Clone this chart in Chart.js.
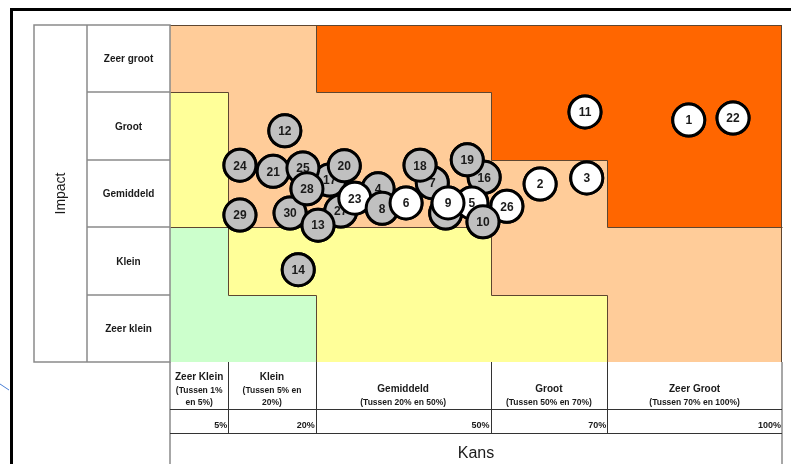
<!DOCTYPE html>
<html>
<head>
<meta charset="utf-8">
<title>Risicomatrix</title>
<script src="https://cdn.jsdelivr.net/npm/chart.js@4"></script>
<style>
    html, body { margin: 0; padding: 0; background: #fff; }
    canvas { display: block; }
</style>
</head>
<body>
<canvas id="risk-chart" width="791" height="464"></canvas>
<script>
// Impact rows, bottom to top
const impactLabels = ['Zeer klein', 'Klein', 'Gemiddeld', 'Groot', 'Zeer groot'];

// Kans columns
const kansLabels = ['Zeer Klein', 'Klein', 'Gemiddeld', 'Groot', 'Zeer Groot'];
const kansRanges = [
    ['(Tussen 1%', 'en 5%)'],
    ['(Tussen 5% en', '20%)'],
    ['(Tussen 20% en 50%)'],
    ['(Tussen 50% en 70%)'],
    ['(Tussen 70% en 100%)']
];
const kansBounds = [-5, 5, 20, 50, 70, 100];
const kansTicks = ['5%', '20%', '50%', '70%', '100%'];

// Zone per cell (rows bottom to top): G = laag, Y = matig, P = hoog, O = zeer hoog
const zoneMatrix = [
    ['G', 'G', 'Y', 'Y', 'P'],
    ['G', 'Y', 'Y', 'P', 'P'],
    ['Y', 'P', 'P', 'P', 'O'],
    ['Y', 'P', 'P', 'O', 'O'],
    ['P', 'P', 'O', 'O', 'O']
];

// Risks, in drawing order (later ones on top)
const riskIds    = [17, 15, 12, 24, 21, 25, 30, 28, 20, 29, 27, 13, 4, 23, 8, 6, 7, 18, 16, 19, 5, 9, 26, 10, 2, 3, 11, 1, 22, 14];
const riskKans   = [22.4, 42.3, 14.7, 7.0, 12.7, 17.8, 15.6, 18.5, 24.9, 7.0, 24.3, 20.4, 30.7, 26.7, 31.4, 35.5, 40.0, 37.9, 48.9, 46.0, 46.8, 42.7, 52.8, 48.7, 58.5, 66.5, 66.2, 84.0, 91.6, 17.0];
const riskImpact = [2.70, 2.21, 3.43, 2.92, 2.83, 2.88, 2.21, 2.57, 2.91, 2.18, 2.24, 2.03, 2.57, 2.43, 2.28, 2.36, 2.66, 2.92, 2.74, 3.00, 2.36, 2.36, 2.31, 2.08, 2.64, 2.73, 3.71, 3.59, 3.62, 1.37];
const riskGrey   = [true, true, true, true, true, true, true, true, true, true, true, true, true, false, true, false, true, true, true, true, false, false, false, true, false, false, false, false, false, true];

const zoneColors = { G: '#CCFFCC', Y: '#FFFF99', P: '#FFCC99', O: '#FF6600' };
const gridGrey = '#8a8a8a';
const zoneLine = '#5e4630';

function multiLine(ctx, lines, x, y, lh) {
    lines.forEach((t, i) => ctx.fillText(t, x, y + i * lh));
}

// Draws frame, tables and coloured zones behind the bubbles
const matrixPlugin = {
    id: 'matrix',
    beforeDatasetsDraw(chart) {
        const ctx = chart.ctx;
        const xs = chart.scales.x;
        const ys = chart.scales.y;
        const area = chart.chartArea;
        const left = 34, mid = 87;
        const hdrBottom = 409, pctBottom = 433, bottom = chart.height;
        const px = v => Math.round(xs.getPixelForValue(v));
        const py = v => Math.round(ys.getPixelForValue(v));

        ctx.save();

        // outer frame
        ctx.fillStyle = '#000';
        ctx.fillRect(10, 8, chart.width - 10, 3);
        ctx.fillRect(10, 8, 3, chart.height - 8);
        ctx.strokeStyle = '#4a7fd6';
        ctx.lineWidth = 1;
        ctx.beginPath();
        ctx.moveTo(0, 384);
        ctx.lineTo(9, 390);
        ctx.stroke();

        // zones
        for (let r = 0; r < 5; r++) {
            for (let c = 0; c < 5; c++) {
                const x0 = px(kansBounds[c]);
                const x1 = px(kansBounds[c + 1]);
                const y0 = py(r + 1);
                const y1 = py(r);
                ctx.fillStyle = zoneColors[zoneMatrix[r][c]];
                ctx.fillRect(x0, y0, x1 - x0, y1 - y0);
            }
        }

        // zone borders
        ctx.strokeStyle = zoneLine;
        ctx.lineWidth = 1;
        ctx.beginPath();
        for (let r = 0; r < 5; r++) {
            for (let c = 0; c < 5; c++) {
                const x0 = px(kansBounds[c]) + 0.5;
                const x1 = px(kansBounds[c + 1]) + 0.5;
                const y0 = py(r + 1) + 0.5;
                const y1 = py(r) + 0.5;
                if (c < 4 && zoneMatrix[r][c] !== zoneMatrix[r][c + 1]) {
                    ctx.moveTo(x1, y0);
                    ctx.lineTo(x1, y1);
                }
                if (r < 4 && zoneMatrix[r][c] !== zoneMatrix[r + 1][c]) {
                    ctx.moveTo(x0, y0);
                    ctx.lineTo(x1, y0);
                }
            }
        }
        ctx.moveTo(area.left, area.top + 0.5);
        ctx.lineTo(area.right, area.top + 0.5);
        ctx.moveTo(area.right - 0.5, area.top);
        ctx.lineTo(area.right - 0.5, area.bottom);
        ctx.stroke();

        // left table (Impact)
        ctx.strokeStyle = gridGrey;
        ctx.lineWidth = 1.5;
        ctx.beginPath();
        ctx.rect(left, area.top, area.left - left, area.bottom - area.top);
        ctx.moveTo(mid, area.top);
        ctx.lineTo(mid, area.bottom);
        for (let r = 1; r < 5; r++) {
            const y = py(r);
            ctx.moveTo(mid, y);
            ctx.lineTo(area.left, y);
        }
        ctx.stroke();

        ctx.fillStyle = '#1a1a1a';
        ctx.textAlign = 'center';
        ctx.textBaseline = 'middle';
        ctx.font = 'bold 10px Arial';
        impactLabels.forEach((lab, r) => {
            ctx.fillText(lab, (mid + area.left) / 2, ys.getPixelForValue(r + 0.5) + 1);
        });
        ctx.save();
        ctx.translate((left + mid) / 2 + 1, (area.top + area.bottom) / 2);
        ctx.rotate(-Math.PI / 2);
        ctx.font = '14px Arial';
        ctx.fillText('Impact', 0, 0);
        ctx.restore();

        // bottom table (Kans)
        ctx.strokeStyle = gridGrey;
        ctx.lineWidth = 1.5;
        ctx.beginPath();
        ctx.moveTo(area.left, area.bottom);
        ctx.lineTo(area.left, bottom);
        ctx.moveTo(area.right, area.bottom);
        ctx.lineTo(area.right, bottom);
        ctx.stroke();
        ctx.strokeStyle = '#333';
        ctx.lineWidth = 1;
        ctx.beginPath();
        [hdrBottom, pctBottom].forEach(y => {
            ctx.moveTo(area.left, y + 0.5);
            ctx.lineTo(area.right, y + 0.5);
        });
        for (let c = 1; c < 5; c++) {
            const x = px(kansBounds[c]) + 0.5;
            ctx.moveTo(x, area.bottom);
            ctx.lineTo(x, pctBottom);
        }
        ctx.stroke();

        ctx.fillStyle = '#1a1a1a';
        for (let c = 0; c < 5; c++) {
            const x0 = xs.getPixelForValue(kansBounds[c]);
            const x1 = xs.getPixelForValue(kansBounds[c + 1]);
            const cx = (x0 + x1) / 2;
            const wrapped = kansRanges[c].length > 1;
            ctx.textAlign = 'center';
            ctx.font = 'bold 10px Arial';
            ctx.fillText(kansLabels[c], cx, wrapped ? 377 : 389);
            ctx.font = 'bold 8.5px Arial';
            multiLine(ctx, kansRanges[c], cx, wrapped ? 391 : 403, 12);
            ctx.textAlign = 'right';
            ctx.font = 'bold 9px Arial';
            ctx.fillText(kansTicks[c], x1 - 1, 426);
        }
        ctx.textAlign = 'center';
        ctx.font = '16px Arial';
        ctx.fillText('Kans', (area.left + area.right) / 2, 454);

        ctx.restore();
    }
};

// Redraws each bubble with its number, in order, so later bubbles cover earlier numbers
const numberPlugin = {
    id: 'riskNumbers',
    afterDatasetsDraw(chart) {
        const ctx = chart.ctx;
        const meta = chart.getDatasetMeta(0);
        ctx.save();
        meta.data.forEach((pt, i) => {
            pt.draw(ctx);
            ctx.fillStyle = '#1a1a1a';
            ctx.font = 'bold 12px Arial';
            ctx.textAlign = 'center';
            ctx.textBaseline = 'middle';
            ctx.fillText(String(riskIds[i]), pt.x, pt.y + 1);
        });
        ctx.restore();
    }
};

const ctx = document.getElementById('risk-chart');
new Chart(ctx, {
    type: 'scatter',
    data: {
        datasets: [{
            label: 'Risico',
            data: riskIds.map((id, i) => ({ x: riskKans[i], y: riskImpact[i] })),
            backgroundColor: riskGrey.map(g => g ? '#C0C0C0' : '#FFFFFF'),
            borderColor: '#000000',
            borderWidth: 3,
            pointRadius: 16,
            pointHoverRadius: 16,
            clip: false
        }]
    },
    options: {
        responsive: false,
        animation: false,
        layout: {
            autoPadding: false,
            padding: { left: 170, top: 25, right: 9, bottom: 102 }
        },
        scales: {
            x: { type: 'linear', min: -5, max: 100, display: false },
            y: { type: 'linear', min: 0, max: 5, display: false }
        },
        plugins: {
            legend: { display: false },
            tooltip: { enabled: false }
        },
        events: []
    },
    plugins: [matrixPlugin, numberPlugin]
});
</script>
</body>
</html>
